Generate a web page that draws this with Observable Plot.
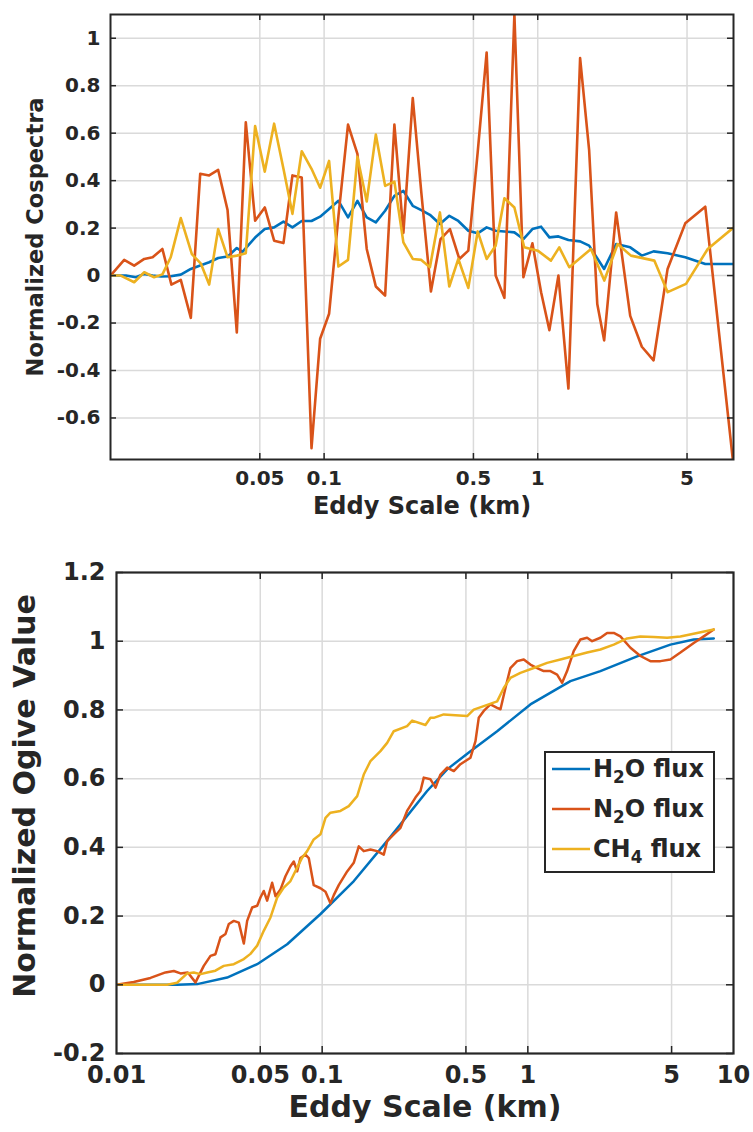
<!DOCTYPE html>
<html>
<head>
<meta charset="utf-8">
<script src="https://cdn.jsdelivr.net/npm/d3@7"></script>
<script src="https://cdn.jsdelivr.net/npm/@observablehq/plot@0.6"></script>
<style>
  html, body { margin: 0; padding: 0; background: #fff; }
  #wrap { position: relative; width: 753px; height: 1132px; background: #fff; font-family: "DejaVu Sans", sans-serif; }
  #top { position: absolute; left: 0; top: 0; }
  #bot { position: absolute; left: 0; top: 530px; }
  #legend { position: absolute; left: 544px; top: 751px; width: 167px; height: 118px; border: 2px solid #262626; background: #fff; color: #262626; font-weight: bold; font-size: 24px; }
  #legend .row { position: absolute; left: 5px; height: 30px; display: flex; align-items: center; white-space: nowrap; }
  #legend sub { font-size: 0.7em; vertical-align: -0.35em; line-height: 0; }
</style>
</head>
<body>
<div id="wrap">
  <div id="top"></div>
  <div id="bot"></div>
  <div id="legend"></div>
</div>
<script>
// ---------- Series names / colours ----------
const seriesNames = ["H2O flux", "N2O flux", "CH4 flux"];
const legendLabels = ["H<sub>2</sub>O flux", "N<sub>2</sub>O flux", "CH<sub>4</sub> flux"];
const seriesColors = ["#0072BD", "#D95319", "#EDB120"];

// ---------- Top panel: normalized cospectra ----------
const cospecXTicks = [0.05, 0.1, 0.5, 1, 5];
const cospecYTicks = [-0.6, -0.4, -0.2, 0, 0.2, 0.4, 0.6, 0.8, 1];

const cospecX_H2O = [0.0100,0.0118,0.01315,0.01439,0.01574,0.01722,0.01914,0.02133,0.02377,0.0263,0.02897,0.03192,0.03532,0.03902,0.04148,0.04753,0.05275,0.05834,0.06452,0.07107,0.07857,0.0873,0.0958,0.1055,0.1167,0.1294,0.1432,0.1583,0.1746,0.1930,0.2133,0.2350,0.2600,0.2851,0.3128,0.3484,0.3855,0.4249,0.4732,0.5236,0.5766,0.6353,0.6982,0.7776,0.8568,0.9441,1.037,1.134,1.250,1.392,1.579,1.740,2.046,2.329,2.710,3.072,3.485,4.054,4.905,6.087,8.2];
const cospec_H2O = [0,0,-0.007,0.007,0,-0.004,-0.003,0.004,0.028,0.042,0.056,0.074,0.08,0.116,0.10,0.16,0.196,0.203,0.227,0.203,0.23,0.23,0.248,0.28,0.315,0.245,0.315,0.245,0.224,0.273,0.336,0.357,0.294,0.276,0.256,0.217,0.252,0.23,0.189,0.178,0.203,0.189,0.186,0.182,0.154,0.196,0.206,0.161,0.165,0.15,0.144,0.126,0.028,0.133,0.119,0.084,0.102,0.094,0.077,0.049,0.049];

const cospecX_N2O = [0.0100,0.01159,0.01291,0.01439,0.01574,0.0175,0.01928,0.02133,0.02377,0.0263,0.02897,0.03192,0.03532,0.03902,0.04299,0.04753,0.05275,0.05834,0.06452,0.07107,0.07857,0.0873,0.0958,0.1055,0.1167,0.1294,0.1432,0.1583,0.1746,0.1930,0.2133,0.2350,0.2600,0.2851,0.3162,0.3509,0.3882,0.4295,0.4732,0.5236,0.5766,0.6353,0.6982,0.7776,0.8568,0.9441,1.037,1.134,1.250,1.392,1.579,1.740,1.900,2.046,2.329,2.710,3.072,3.485,4.054,4.905,6.087,8.2];
const cospec_N2O = [0,0.066,0.042,0.07,0.077,0.112,-0.038,-0.018,-0.178,0.429,0.422,0.445,0.276,-0.24,0.646,0.231,0.287,0.147,0.137,0.422,0.413,-0.727,-0.266,-0.161,0.25,0.636,0.513,0.112,-0.046,-0.084,0.636,0.18,0.748,0.35,-0.067,0.154,0.196,0.07,0.105,0.52,0.94,0.0,-0.094,1.1,-0.007,0.136,-0.07,-0.23,0.0,-0.476,0.916,0.53,-0.12,-0.273,0.266,-0.17,-0.30,-0.357,0.028,0.22,0.29,-0.78];

const cospecX_CH4 = [0.0100,0.01117,0.01291,0.01439,0.016,0.0175,0.01914,0.02133,0.02404,0.0265,0.02897,0.03192,0.03532,0.03902,0.04299,0.04753,0.05275,0.05834,0.06452,0.07107,0.07857,0.0873,0.0958,0.1055,0.1167,0.1294,0.1432,0.1583,0.1746,0.1930,0.2133,0.2350,0.2600,0.2851,0.3128,0.3484,0.3855,0.4249,0.4732,0.5236,0.5766,0.6353,0.6982,0.7776,0.8646,1.0,1.153,1.261,1.405,1.775,2.049,2.367,2.732,3.513,4.058,4.945,6.249,8.2];
const cospec_CH4 = [0,0,-0.028,0.014,-0.007,0.005,0.077,0.242,0.09,0.05,-0.038,0.196,0.077,0.084,0.094,0.63,0.438,0.64,0.45,0.26,0.524,0.45,0.37,0.483,0.038,0.066,0.5,0.312,0.594,0.378,0.396,0.14,0.07,0.066,0.035,0.266,-0.046,0.07,-0.052,0.186,0.07,0.126,0.326,0.287,0.119,0.105,0.063,0.119,0.035,0.112,-0.021,0.133,0.084,0.063,-0.07,-0.035,0.112,0.2];

// ---------- Bottom panel: normalized ogive ----------
const ogiveXTicks = [0.01, 0.05, 0.1, 0.5, 1, 5, 10];
const ogiveXGrid = [0.05, 0.1, 0.5, 1, 5];
const ogiveYTicks = [-0.2, 0, 0.2, 0.4, 0.6, 0.8, 1, 1.2];

const ogiveX_H2O = [0.01,0.0197,0.0247,0.0345,0.0483,0.0676,0.0982,0.1426,0.2071,0.3238,0.4052,0.5262,0.7093,1.029,1.611,2.253,3.398,4.934,6.408,8.02];
const ogive_H2O = [0,0,0.002,0.021,0.06,0.118,0.206,0.302,0.419,0.564,0.627,0.68,0.738,0.816,0.884,0.913,0.956,0.99,1.005,1.008];

const ogiveX_N2O = [0.01,0.01213,0.01463,0.0173,0.019,0.02048,0.02222,0.02422,0.02561,0.02657,0.02864,0.03027,0.03204,0.0339,0.03517,0.03718,0.03933,0.0416,0.04318,0.04567,0.04831,0.05011,0.05199,0.054,0.05712,0.0593,0.06269,0.06629,0.07013,0.07278,0.07557,0.0784,0.08292,0.08607,0.091,0.09816,0.1038,0.1097,0.1139,0.1204,0.1323,0.1424,0.1507,0.1593,0.1717,0.1851,0.1993,0.207,0.2229,0.2403,0.2588,0.2841,0.3006,0.3119,0.3362,0.3558,0.376,0.4052,0.4365,0.4702,0.5262,0.5564,0.5772,0.6104,0.6577,0.7093,0.7362,0.7783,0.8226,0.8869,0.9555,1.029,1.11,1.195,1.288,1.388,1.468,1.552,1.671,1.802,1.942,2.054,2.254,2.429,2.617,2.818,3.154,3.527,3.945,4.412,4.933,5.518,6.407,7.165,8.017];
const ogive_N2O = [0,0.008,0.02,0.036,0.04,0.033,0.036,0.007,0.036,0.055,0.084,0.089,0.138,0.148,0.177,0.186,0.181,0.12,0.186,0.225,0.23,0.254,0.273,0.245,0.297,0.258,0.277,0.316,0.345,0.359,0.33,0.369,0.379,0.369,0.29,0.281,0.271,0.237,0.261,0.29,0.33,0.355,0.403,0.389,0.394,0.389,0.379,0.418,0.438,0.457,0.506,0.545,0.564,0.603,0.598,0.574,0.612,0.632,0.622,0.642,0.661,0.709,0.777,0.797,0.816,0.806,0.802,0.864,0.922,0.942,0.947,0.932,0.922,0.913,0.913,0.903,0.879,0.913,0.971,1.005,1.01,1.0,1.01,1.024,1.024,1.014,0.981,0.957,0.942,0.942,0.947,0.967,0.995,1.014,1.034];

const ogiveX_CH4 = [0.01,0.01764,0.0197,0.02207,0.02375,0.02561,0.02761,0.03027,0.03323,0.03718,0.0416,0.0448,0.04831,0.05199,0.05607,0.06043,0.06506,0.07013,0.07557,0.07991,0.08455,0.091,0.09816,0.1038,0.1097,0.1227,0.1347,0.148,0.1593,0.1717,0.192,0.207,0.2229,0.2588,0.2739,0.3178,0.3361,0.3487,0.3899,0.507,0.5458,0.6104,0.7093,0.7638,0.8226,0.9204,1.068,1.241,1.44,1.672,1.942,2.254,2.617,3.039,3.527,4.094,4.755,5.518,6.655,8.017];
const ogive_CH4 = [0,0,0.006,0.033,0.036,0.031,0.036,0.041,0.055,0.06,0.075,0.09,0.114,0.157,0.196,0.254,0.283,0.302,0.341,0.37,0.389,0.423,0.438,0.486,0.501,0.506,0.52,0.549,0.612,0.651,0.68,0.704,0.738,0.753,0.769,0.756,0.777,0.777,0.787,0.782,0.801,0.811,0.825,0.864,0.893,0.908,0.922,0.937,0.947,0.957,0.967,0.976,0.99,1.008,1.014,1.012,1.01,1.014,1.024,1.034];

// ---------- helpers ----------
function rows(xs, ys, name) { return xs.map((x, i) => ({x, y: ys[i], name})); }
const cospecData = [
  ...rows(cospecX_H2O, cospec_H2O, seriesNames[0]),
  ...rows(cospecX_N2O, cospec_N2O, seriesNames[1]),
  ...rows(cospecX_CH4, cospec_CH4, seriesNames[2])
];
const ogiveData = [
  ...rows(ogiveX_H2O, ogive_H2O, seriesNames[0]),
  ...rows(ogiveX_N2O, ogive_N2O, seriesNames[1]),
  ...rows(ogiveX_CH4, ogive_CH4, seriesNames[2])
];
const fmt = d => String(d);
const ink = "#262626";
const gridStroke = "#dadada";

// ---------- Top plot ----------
{
  const W = 753, H = 530, mL = 110, mR = 20, mT = 14, mB = 71;
  const fw = W - mL - mR, fh = H - mT - mB;
  const tick = 6;
  const chart = Plot.plot({
    width: W, height: H, marginLeft: mL, marginRight: mR, marginTop: mT, marginBottom: mB,
    style: {fontFamily: "DejaVu Sans", color: ink, background: "transparent", overflow: "visible"},
    x: {type: "log", domain: [0.01, 8.25], axis: null},
    y: {domain: [-0.775, 1.1], axis: null},
    color: {domain: seriesNames, range: seriesColors},
    marks: [
      Plot.ruleX(cospecXTicks, {x: d => d, stroke: gridStroke, strokeWidth: 1.5}),
      Plot.ruleY(cospecYTicks, {y: d => d, stroke: gridStroke, strokeWidth: 1.5}),
      Plot.line(cospecData, {x: "x", y: "y", z: "name", stroke: "name", strokeWidth: 2.6, clip: true}),
      Plot.ruleX(cospecXTicks, {x: d => d, insetTop: fh - tick, stroke: ink, strokeWidth: 1.5}),
      Plot.ruleX(cospecXTicks, {x: d => d, insetBottom: fh - tick, stroke: ink, strokeWidth: 1.5}),
      Plot.ruleY(cospecYTicks, {y: d => d, insetRight: fw - tick, stroke: ink, strokeWidth: 1.5}),
      Plot.ruleY(cospecYTicks, {y: d => d, insetLeft: fw - tick, stroke: ink, strokeWidth: 1.5}),
      Plot.frame({stroke: ink, strokeWidth: 2}),
      Plot.text(cospecXTicks, {x: d => d, frameAnchor: "bottom", dy: 11, lineAnchor: "top", text: fmt, fontSize: 20, fontWeight: "bold", fill: ink}),
      Plot.text(cospecYTicks, {y: d => d, frameAnchor: "left", dx: -10, textAnchor: "end", text: fmt, fontSize: 20, fontWeight: "bold", fill: ink}),
      Plot.text(["Eddy Scale (km)"], {frameAnchor: "bottom", dy: 54, textAnchor: "middle", fontSize: 24, fontWeight: "bold", fill: ink}),
      Plot.text(["Normalized Cospectra"], {frameAnchor: "left", rotate: -90, dx: -75, textAnchor: "middle", fontSize: 22.5, fontWeight: "bold", fill: ink})
    ]
  });
  document.getElementById("top").appendChild(chart);
}

// ---------- Bottom plot ----------
{
  const W = 753, H = 602, mL = 116, mR = 20, mT = 42, mB = 79;
  const fw = W - mL - mR, fh = H - mT - mB;
  const tick = 7;
  const chart = Plot.plot({
    width: W, height: H, marginLeft: mL, marginRight: mR, marginTop: mT, marginBottom: mB,
    style: {fontFamily: "DejaVu Sans", color: ink, background: "transparent", overflow: "visible"},
    x: {type: "log", domain: [0.01, 10], axis: null},
    y: {domain: [-0.2, 1.2], axis: null},
    color: {domain: seriesNames, range: seriesColors},
    marks: [
      Plot.ruleX(ogiveXGrid, {x: d => d, stroke: gridStroke, strokeWidth: 1.5}),
      Plot.ruleY(ogiveYTicks.slice(1, -1), {y: d => d, stroke: gridStroke, strokeWidth: 1.5}),
      Plot.line(ogiveData, {x: "x", y: "y", z: "name", stroke: "name", strokeWidth: 2.5, clip: true}),
      Plot.ruleX(ogiveXGrid, {x: d => d, insetTop: fh - tick, stroke: ink, strokeWidth: 1.5}),
      Plot.ruleX(ogiveXGrid, {x: d => d, insetBottom: fh - tick, stroke: ink, strokeWidth: 1.5}),
      Plot.ruleY(ogiveYTicks, {y: d => d, insetRight: fw - tick, stroke: ink, strokeWidth: 1.5}),
      Plot.ruleY(ogiveYTicks, {y: d => d, insetLeft: fw - tick, stroke: ink, strokeWidth: 1.5}),
      Plot.frame({stroke: ink, strokeWidth: 2.2}),
      Plot.text(ogiveXTicks, {x: d => d, frameAnchor: "bottom", dy: 12, lineAnchor: "top", text: fmt, fontSize: 24, fontWeight: "bold", fill: ink}),
      Plot.text(ogiveYTicks, {y: d => d, frameAnchor: "left", dx: -11, textAnchor: "end", text: fmt, fontSize: 24, fontWeight: "bold", fill: ink}),
      Plot.text(["Eddy Scale (km)"], {frameAnchor: "bottom", dy: 63, textAnchor: "middle", fontSize: 30, fontWeight: "bold", fill: ink}),
      Plot.text(["Normalized Ogive Value"], {frameAnchor: "left", rotate: -90, dx: -91, dy: -17, textAnchor: "middle", fontSize: 30, fontWeight: "bold", fill: ink})
    ]
  });
  document.getElementById("bot").appendChild(chart);
}

// ---------- Legend ----------
{
  const lg = document.getElementById("legend");
  const rowTops = [1, 41, 81];
  seriesNames.forEach((n, i) => {
    const r = document.createElement("div");
    r.className = "row";
    r.style.top = rowTops[i] + "px";
    r.innerHTML = `<svg width="40" height="6" style="margin-right:2px"><line x1="1" x2="39" y1="3" y2="3" stroke="${seriesColors[i]}" stroke-width="2.5"/></svg><span>${legendLabels[i]}</span>`;
    lg.appendChild(r);
  });
}
</script>
</body>
</html>
